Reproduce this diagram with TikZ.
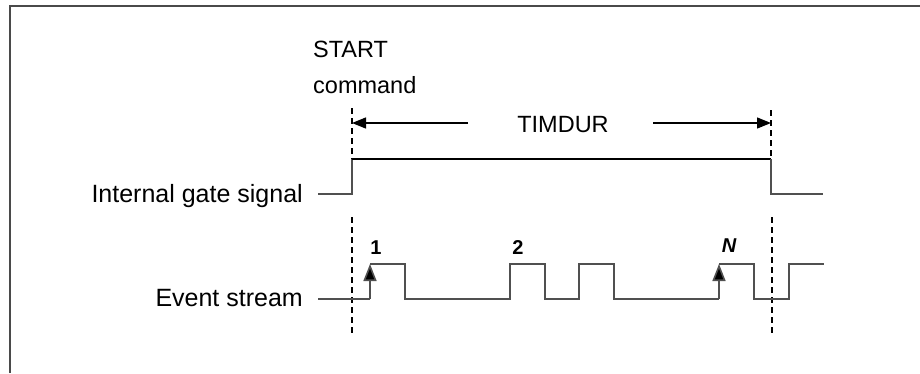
\documentclass[tikz,border=0pt]{standalone}
\usepackage{fontspec}
\setmainfont{Liberation Sans}
\usetikzlibrary{arrows.meta}
\definecolor{sig}{HTML}{505050}
\definecolor{frm}{HTML}{4A4A4A}
\begin{document}
\begin{tikzpicture}[x=1pt,y=-1pt,
  lbl/.style={inner sep=0pt, font=\fontsize{25}{30}\selectfont},
  toplbl/.style={inner sep=0pt, font=\fontsize{23.5}{30}\selectfont},
  numlbl/.style={inner sep=0pt, font=\fontsize{20}{22}\selectfont\bfseries},
  gateline/.style={draw=sig, line width=1.6pt},
  highline/.style={draw=black, line width=1.2pt},
  evline/.style={draw=sig, line width=1.6pt},
  markline/.style={draw=black, line width=1.2pt, dash pattern=on 6pt off 4pt},
  durarrow/.style={draw=black, line width=1.3pt, -{Triangle[length=14pt,width=11pt]}},
  evarrow/.style={draw=sig, line width=1.6pt, -{Triangle[length=17pt,width=13pt,fill=black]}},
  framel/.style={draw=frm, line width=2pt}]
\useasboundingbox (0,0) rectangle (920,373);
% frame
\coordinate (fbl) at (10,373);
\coordinate (ftl) at (10,6);
\coordinate (ftr) at (920,6);
\draw[framel] (fbl) -- (ftl) -- (ftr);

% labels
\node[toplbl, anchor=base west] (start) at (313,57) {START};
\node[toplbl, anchor=base west] (cmd) at (313,93) {command};
\node[toplbl, anchor=base] (timdur) at (563,132) {TIMDUR};
\node[lbl, anchor=base east] (gatelbl) at (303,202) {Internal gate signal};
\node[lbl, anchor=base east] (evlbl) at (303,306) {Event stream};
\node[numlbl] (n1) at (376,248) {1};
\node[numlbl] (n2) at (518,248) {2};
\node[numlbl, font=\fontsize{20}{22}\selectfont\bfseries\itshape] (nN) at (729,246) {N};

% marker lines
\coordinate (d1a) at (352,108);
\coordinate (d1b) at (352,159);
\coordinate (d1c) at (352,217);
\coordinate (d1d) at (352,336);
\coordinate (d2a) at (771,110);
\coordinate (d2b) at (771,159);
\coordinate (d2c) at (772,217);
\coordinate (d2d) at (772,334);
\draw[markline] (d1a) -- (d1b);
\draw[markline] (d1c) -- (d1d);
\draw[markline] (d2a) -- (d2b);
\draw[markline] (d2c) -- (d2d);

% duration arrows
\coordinate (la) at (468,123);
\coordinate (lb) at (352,123);
\coordinate (ra) at (653,123);
\coordinate (rb) at (771,123);
\draw[durarrow] (la) -- (lb);
\draw[durarrow] (ra) -- (rb);

% gate signal
\coordinate (g0) at (318,194);
\coordinate (g1) at (352,194);
\coordinate (g2) at (352,159);
\coordinate (g3) at (771,159);
\coordinate (g4) at (771,194);
\coordinate (g5) at (823,194);
\draw[gateline] (g0) -- (g1) -- (g2);
\draw[highline] (g2) -- (g3);
\draw[gateline] (g3) -- (g4) -- (g5);

% event stream
\coordinate (e0) at (318,299);
\coordinate (e1) at (370,299);
\coordinate (e1h) at (370,264);
\coordinate (e2h) at (405,264);
\coordinate (e2) at (405,299);
\coordinate (e3) at (510,299);
\coordinate (e3h) at (510,264);
\coordinate (e4h) at (545,264);
\coordinate (e4) at (545,299);
\coordinate (e5) at (579,299);
\coordinate (e5h) at (579,264);
\coordinate (e6h) at (614,264);
\coordinate (e6) at (614,299);
\coordinate (e7) at (719,299);
\coordinate (e7h) at (719,264);
\coordinate (e8h) at (754,264);
\coordinate (e8) at (754,299);
\coordinate (e9) at (789,299);
\coordinate (e9h) at (789,264);
\coordinate (e10h) at (824,264);
\draw[evline] (e0) -- (e1);
\draw[evarrow] (e1) -- (e1h);
\draw[evline] (e1h) -- (e2h) -- (e2) -- (e3) -- (e3h) -- (e4h) -- (e4) -- (e5) -- (e5h) -- (e6h) -- (e6) -- (e7);
\draw[evarrow] (e7) -- (e7h);
\draw[evline] (e7h) -- (e8h) -- (e8) -- (e9) -- (e9h) -- (e10h);
\end{tikzpicture}
\end{document}
